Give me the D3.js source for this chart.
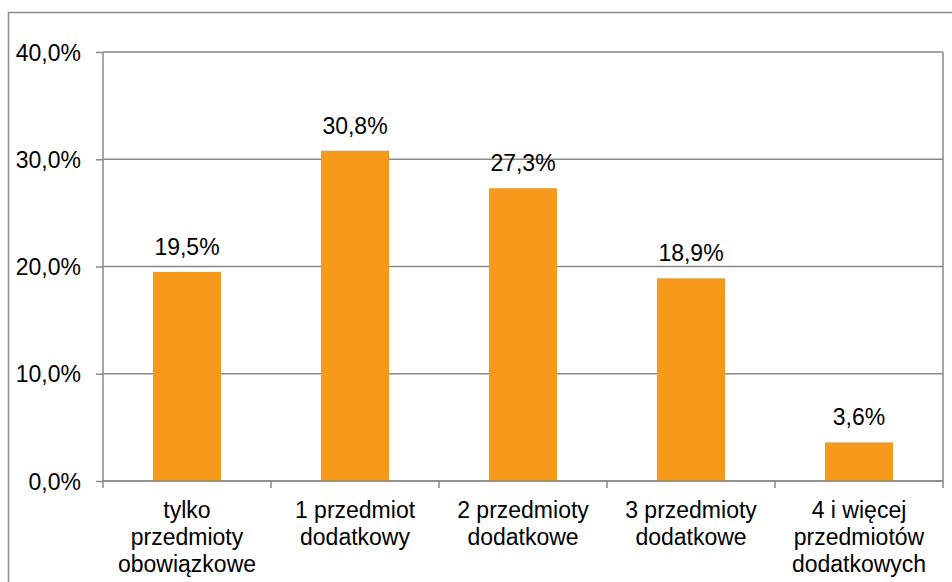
<!DOCTYPE html>
<html>
<head>
<meta charset="utf-8">
<script src="https://cdn.jsdelivr.net/npm/d3@7"></script>
<style>
  html, body { margin: 0; padding: 0; background: #fff; }
  svg { display: block; }
  text { font-family: "Liberation Sans", Arial, sans-serif; fill: #000; }
</style>
</head>
<body>
<svg id="chart" width="952" height="582"></svg>
<script>
const categories = [
  ["tylko", "przedmioty", "obowiązkowe"],
  ["1 przedmiot", "dodatkowy"],
  ["2 przedmioty", "dodatkowe"],
  ["3 przedmioty", "dodatkowe"],
  ["4 i więcej", "przedmiotów", "dodatkowych"]
];
const values = [19.5, 30.8, 27.3, 18.9, 3.6];
const yTicks = [0, 10, 20, 30, 40];

(function () {
const svg = d3.select("#chart");
const W = 952, H = 582;
const pL = 103, pR = 943, pT = 52, pB = 481;
const gridColor = "#898989";
const barColor = "#F7991B";
const fmt = v => v.toFixed(1).replace(".", ",") + "%";

// outer border
svg.append("rect")
  .attr("x", 8.5).attr("y", 12.5)
  .attr("width", W + 20).attr("height", H + 20)
  .attr("fill", "none").attr("stroke", "#8c8c8c").attr("stroke-width", 1.5);

const x = d3.scaleBand().domain(d3.range(categories.length)).range([pL, pR])
  .paddingInner(0.595).paddingOuter(0.2975);
const y = d3.scaleLinear().domain([0, 40]).range([pB, pT]);

// gridlines
svg.append("g").selectAll("line").data(yTicks).join("line")
  .attr("x1", pL).attr("x2", pR)
  .attr("y1", d => y(d)).attr("y2", d => y(d))
  .attr("stroke", gridColor).attr("stroke-width", 1.5);

// plot right border
svg.append("line").attr("x1", pR).attr("x2", pR).attr("y1", pT).attr("y2", pB)
  .attr("stroke", gridColor).attr("stroke-width", 1.5);

// bars
svg.append("g").selectAll("rect").data(values).join("rect")
  .attr("x", (d, i) => x(i)).attr("width", x.bandwidth())
  .attr("y", d => y(d)).attr("height", d => y(0) - y(d))
  .attr("fill", barColor);

// value labels
svg.append("g").selectAll("text").data(values).join("text")
  .attr("x", (d, i) => x(i) + x.bandwidth() / 2)
  .attr("y", d => y(d) - 17)
  .attr("text-anchor", "middle").attr("font-size", 23)
  .text(d => fmt(d));

// y axis
const yAxis = d3.axisLeft(y).tickValues(yTicks).tickFormat(d => fmt(d)).tickSize(7).tickPadding(15);
const gy = svg.append("g").attr("transform", `translate(${pL},0)`).call(yAxis);
gy.select(".domain").attr("stroke", gridColor).attr("stroke-width", 1.5).attr("d", `M0,${pT}V${pB}`);
gy.selectAll(".tick line").attr("stroke", gridColor).attr("stroke-width", 1.5);
gy.selectAll(".tick text").attr("font-size", 23).attr("font-family", "Liberation Sans, Arial, sans-serif").attr("fill", "#000").attr("dy", "0.35em");

// x axis
const xb = d3.scaleLinear().domain([0, categories.length]).range([pL, pR]);
const gx = svg.append("g").attr("transform", `translate(0,${pB})`);
gx.append("line").attr("x1", pL).attr("x2", pR).attr("stroke", gridColor).attr("stroke-width", 1.5);
gx.selectAll("line.tk").data(d3.range(categories.length + 1)).join("line").attr("class", "tk")
  .attr("x1", d => xb(d)).attr("x2", d => xb(d)).attr("y1", 0).attr("y2", 7)
  .attr("stroke", gridColor).attr("stroke-width", 1.5);

const lbl = svg.append("g").selectAll("text").data(categories).join("text")
  .attr("text-anchor", "middle").attr("font-size", 23);
lbl.each(function(lines, i) {
  const t = d3.select(this);
  lines.forEach((ln, j) => {
    t.append("tspan").attr("x", x(i) + x.bandwidth() / 2).attr("y", 518 + j * 27).text(ln);
  });
});
})();
</script>
</body>
</html>
